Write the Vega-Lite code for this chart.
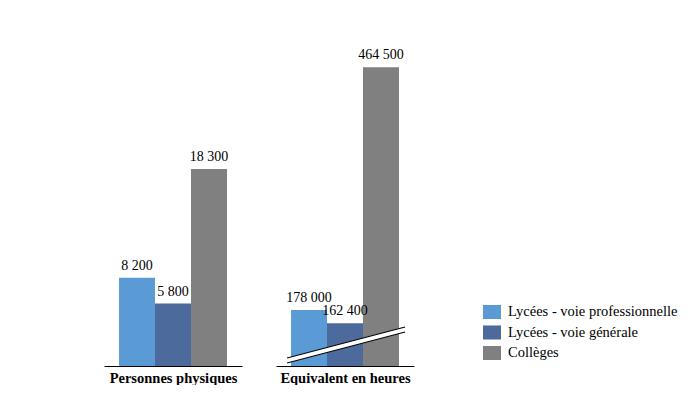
{
  "$schema": "https://vega.github.io/schema/vega-lite/v6.json",
  "background": "white",
  "padding": {"left": 104, "top": 40, "right": 0, "bottom": 0},
  "data": {
    "values": [
      {"groupe": "Personnes physiques", "serie": "Lycées - voie professionnelle", "valeur": 8200},
      {"groupe": "Personnes physiques", "serie": "Lycées - voie générale", "valeur": 5800},
      {"groupe": "Personnes physiques", "serie": "Collèges", "valeur": 18300},
      {"groupe": "Equivalent en heures", "serie": "Lycées - voie professionnelle", "valeur": 178000},
      {"groupe": "Equivalent en heures", "serie": "Lycées - voie générale", "valeur": 162400},
      {"groupe": "Equivalent en heures", "serie": "Collèges", "valeur": 464500}
    ]
  },
  "spacing": 34,
  "hconcat": [
    {
      "width": 138,
      "height": 326,
      "encoding": {
        "x": {
          "field": "serie", "type": "nominal",
          "sort": ["Lycées - voie professionnelle", "Lycées - voie générale", "Collèges"],
          "scale": {"paddingInner": 0, "paddingOuter": 0.417},
          "axis": {"title": "Personnes physiques", "labels": false, "ticks": false}
        },
        "y": {
          "field": "valeur", "type": "quantitative",
          "scale": {"domain": [0, 30269], "nice": false},
          "axis": null
        }
      },
      "layer": [
        {
          "transform": [{"filter": "datum.groupe === 'Personnes physiques'"}],
          "mark": "bar",
          "encoding": {
            "color": {
              "field": "serie", "type": "nominal",
              "sort": ["Lycées - voie professionnelle", "Lycées - voie générale", "Collèges"],
              "scale": {
                "domain": ["Lycées - voie professionnelle", "Lycées - voie générale", "Collèges"],
                "range": ["#5b9bd5", "#4c6a9c", "#808080"]
              }
            }
          }
        },
        {
          "transform": [{"filter": "datum.groupe === 'Personnes physiques'"}],
          "mark": {"type": "text", "baseline": "bottom", "dy": -5, "fontSize": 14, "color": "black"},
          "encoding": {"text": {"field": "valeur", "type": "quantitative", "format": ","}}
        }
      ]
    },
    {
      "width": 138,
      "height": 326,
      "encoding": {
        "x": {
          "field": "serie", "type": "nominal",
          "sort": ["Lycées - voie professionnelle", "Lycées - voie générale", "Collèges"],
          "scale": {"paddingInner": 0, "paddingOuter": 0.417},
          "axis": {"title": "Equivalent en heures", "labels": false, "ticks": false}
        },
        "y": {
          "field": "valeur", "type": "quantitative",
          "scale": {"domain": [112000, 496680], "nice": false, "zero": false},
          "axis": null
        }
      },
      "layer": [
        {
          "transform": [{"filter": "datum.groupe === 'Equivalent en heures'"}],
          "mark": {"type": "bar", "clip": true},
          "encoding": {
            "color": {
              "field": "serie", "type": "nominal",
              "sort": ["Lycées - voie professionnelle", "Lycées - voie générale", "Collèges"],
              "scale": {
                "domain": ["Lycées - voie professionnelle", "Lycées - voie générale", "Collèges"],
                "range": ["#5b9bd5", "#4c6a9c", "#808080"]
              }
            }
          }
        },
        {
          "transform": [{"filter": "datum.groupe === 'Equivalent en heures' && datum.serie === 'Collèges'"}],
          "mark": {"type": "rule", "color": "white", "strokeWidth": 5},
          "encoding": {
            "x": {"datum": "Lycées - voie professionnelle", "bandPosition": -0.11},
            "x2": {"datum": "Collèges", "bandPosition": 1.17},
            "y": {"datum": 118490},
            "y2": {"datum": 155070}
          }
        },
        {
          "transform": [{"filter": "datum.groupe === 'Equivalent en heures' && datum.serie === 'Collèges'"}],
          "mark": {"type": "rule", "color": "black", "strokeWidth": 1.2},
          "encoding": {
            "x": {"datum": "Lycées - voie professionnelle", "bandPosition": -0.11},
            "x2": {"datum": "Collèges", "bandPosition": 1.17},
            "y": {"datum": 121440},
            "y2": {"datum": 158020}
          }
        },
        {
          "transform": [{"filter": "datum.groupe === 'Equivalent en heures' && datum.serie === 'Collèges'"}],
          "mark": {"type": "rule", "color": "black", "strokeWidth": 1.2},
          "encoding": {
            "x": {"datum": "Lycées - voie professionnelle", "bandPosition": -0.11},
            "x2": {"datum": "Collèges", "bandPosition": 1.17},
            "y": {"datum": 115540},
            "y2": {"datum": 152120}
          }
        },
        {
          "transform": [{"filter": "datum.groupe === 'Equivalent en heures'"}],
          "mark": {"type": "text", "baseline": "bottom", "dy": -5, "fontSize": 14, "color": "black"},
          "encoding": {"text": {"field": "valeur", "type": "quantitative", "format": ","}}
        }
      ]
    }
  ],
  "config": {
    "font": "Liberation Serif",
    "view": {"stroke": null},
    "locale": {
      "number": {"decimal": ",", "thousands": " ", "grouping": [3], "currency": ["", " €"]}
    },
    "axis": {
      "domainColor": "black",
      "domainWidth": 1,
      "grid": false,
      "titleFont": "Liberation Serif",
      "titleFontSize": 14.5,
      "titleFontWeight": "bold",
      "titleColor": "black",
      "titlePadding": 5
    },
    "legend": {
      "orient": "none",
      "legendX": 379,
      "legendY": 263,
      "title": null,
      "symbolType": "M-1,-0.78H1V0.78H-1Z",
      "symbolSize": 324,
      "symbolStrokeWidth": 0,
      "labelFont": "Liberation Serif",
      "labelFontSize": 14.5,
      "labelColor": "black",
      "labelOffset": 7,
      "labelLimit": 0,
      "rowPadding": 3.5
    }
  }
}
